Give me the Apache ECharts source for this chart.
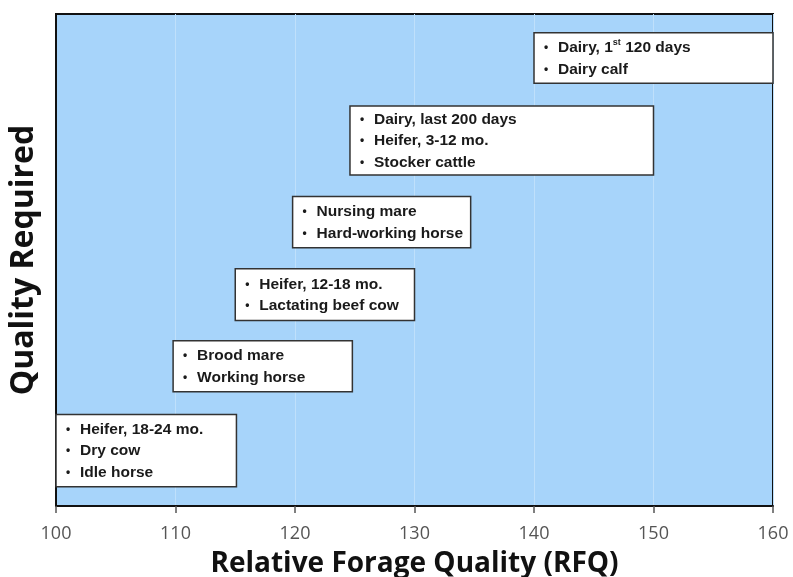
<!DOCTYPE html>
<html>
<head>
<meta charset="utf-8">
<script src="https://cdn.jsdelivr.net/npm/echarts@6/dist/echarts.min.js"></script>
<style>html,body{margin:0;padding:0;background:#fff}#c{width:793px;height:577px}</style>
</head>
<body>
<div id="c"></div>
<script>
// RFQ ranges (x) and relative position on the "quality required" scale (y, 0-100)
const boxRFQStart = [140, 124.6, 119.8, 115, 109.8, 100];
const boxRFQEnd   = [160, 150, 134.7, 130, 124.8, 115.1];
const boxQualTop    = [96.2, 81.3, 62.9, 48.2, 33.6, 18.6];
const boxQualBottom = [85.9, 67.3, 52.5, 37.7, 23.2, 3.9];
const boxLabels = [
  ["Dairy, 1{sup|st} 120 days", "Dairy calf"],
  ["Dairy, last 200 days", "Heifer, 3-12 mo.", "Stocker cattle"],
  ["Nursing mare", "Hard-working horse"],
  ["Heifer, 12-18 mo.", "Lactating beef cow"],
  ["Brood mare", "Working horse"],
  ["Heifer, 18-24 mo.", "Dry cow", "Idle horse"]
];
const xTicks = [100, 110, 120, 130, 140, 150, 160];

const data = boxRFQStart.map((s, i) => [s, boxRFQEnd[i], boxQualTop[i], boxQualBottom[i], i]);
const BOX_FONT = '"Liberation Sans", Arial, sans-serif';
const AXIS_FONT = '"Open Sans", sans-serif';

const chart = echarts.init(document.getElementById('c'));
chart.setOption({
  animation: false,
  grid: {
    left: 56, right: 20, top: 14, bottom: 71,
    outerBoundsMode: 'none', containLabel: false,
    show: true, backgroundColor: '#a7d4fa', borderColor: '#111', borderWidth: 2
  },
  xAxis: {
    type: 'value', min: xTicks[0], max: xTicks[xTicks.length - 1], interval: 10,
    name: 'Relative Forage Quality (RFQ)', nameLocation: 'middle', nameGap: 44,
    nameTextStyle: { fontFamily: AXIS_FONT, fontWeight: 'bold', fontSize: 28, color: '#111' },
    axisLine: { show: true, lineStyle: { color: '#111', width: 2 } },
    axisTick: { show: true, length: 7, lineStyle: { color: '#555', width: 1.5 } },
    axisLabel: { fontFamily: AXIS_FONT, fontSize: 18, color: '#555', margin: 19 },
    splitLine: { show: true, lineStyle: { color: '#bfe0fb', width: 1 } }
  },
  yAxis: {
    type: 'value', min: 0, max: 100,
    name: 'Quality Required', nameLocation: 'middle', nameGap: 16,
    nameTextStyle: { fontFamily: AXIS_FONT, fontWeight: 'bold', fontSize: 32, color: '#111' },
    axisLine: { show: true, lineStyle: { color: '#111', width: 2 } },
    axisTick: { show: false }, axisLabel: { show: false }, splitLine: { show: false }
  },
  series: [{
    type: 'custom',
    clip: false,
    data: data,
    renderItem: function (params, api) {
      const p0 = api.coord([api.value(0), api.value(2)]);
      const p1 = api.coord([api.value(1), api.value(3)]);
      const idx = api.value(4);
      const txt = boxLabels[idx].map(l => '{b|•}' + l).join('\n');
      return {
        type: 'group',
        children: [
          { type: 'rect', shape: { x: p0[0], y: p0[1], width: p1[0] - p0[0], height: p1[1] - p0[1] },
            style: { fill: '#ffffff', stroke: '#333', lineWidth: 1.5 } },
          { type: 'text', x: p0[0] + 10, y: (p0[1] + p1[1]) / 2 + 0.5,
            style: {
              text: txt, align: 'left', verticalAlign: 'middle',
              fontFamily: BOX_FONT, fontWeight: 'bold', fontSize: 15.5, lineHeight: 21.5, fill: '#1a1a1a',
              rich: {
                b: { fontFamily: BOX_FONT, fontWeight: 'bold', fontSize: 12, width: 14, lineHeight: 21.5, fill: '#1a1a1a' },
                sup: { fontFamily: BOX_FONT, fontWeight: 'bold', fontSize: 9, fill: '#1a1a1a', padding: [0, 0, 10, 0], lineHeight: 21.5 }
              }
            } }
        ]
      };
    }
  }]
});
</script>
</body>
</html>
